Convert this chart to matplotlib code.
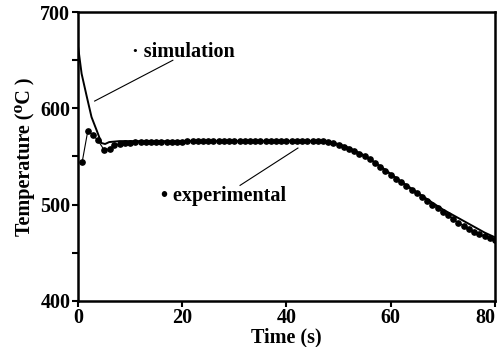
import matplotlib
matplotlib.use('Agg')
import matplotlib.pyplot as plt

# simulation curve
sim_time = [0, 0.7, 1.7, 2.6, 3.6, 4.5, 5.2, 6, 8, 10, 20, 30, 40, 45, 48, 50, 52, 55, 58, 60, 62, 65, 68, 70, 72, 75, 78, 80]
sim_temp = [665, 636, 612, 591, 577, 564, 563, 565, 566, 566, 566, 566, 566, 566, 565, 563, 559, 551, 540, 532, 524, 513, 502, 495, 489, 480, 471, 466]

# experimental measurements (about 1 s apart)
exp_time = [0.8, 1.9, 2.9, 3.8, 5, 6.1, 7, 8, 9, 10,
            11, 12, 13, 14, 15, 16, 17, 18, 19, 20,
            21, 22, 23, 24, 25, 26, 27, 28, 29, 30,
            31, 32, 33, 34, 35, 36, 37, 38, 39, 40,
            41, 42, 43, 44, 45, 46, 47, 48, 49, 50,
            51, 52, 53, 54, 55, 56, 57, 58, 59, 60,
            61, 62, 63, 64, 65, 66, 67, 68, 69, 70,
            71, 72, 73, 74, 75, 76, 77, 78, 79, 80]
exp_temp = [544, 577, 572, 567, 557, 558, 562, 563, 564, 564,
            565, 565, 565, 565, 565, 565, 565, 565, 565, 565,
            566, 566, 566, 566, 566, 566, 566, 566, 566, 566,
            566, 566, 566, 566, 566, 566, 566, 566, 566, 566,
            566, 566, 566, 566, 566, 566, 566, 565, 564, 562,
            560, 558, 556, 553, 550, 547, 543, 539, 535, 531,
            527, 523, 519, 515, 512, 508, 504, 500, 496, 492,
            489, 485, 481, 478, 475, 472, 469, 467, 465, 463]

x_ticks = [0, 20, 40, 60, 80]
y_ticks = [400, 500, 600, 700]

plt.rcParams['font.family'] = ['Liberation Serif', 'DejaVu Serif']
plt.rcParams['font.weight'] = 'bold'

fig = plt.figure(figsize=(5.03, 3.47), dpi=100)
ax = fig.add_axes([0.155, 0.133, 0.829, 0.832])

ax.plot(sim_time, sim_temp, color='black', lw=1.4)
ax.plot(exp_time, exp_temp, color='black', lw=0.8, marker='o', ms=3.8)

ax.set_xlim(0, 80)
ax.set_ylim(400, 700)
ax.set_xticks(x_ticks)
ax.set_yticks(y_ticks)
ax.set_yticks([450, 550, 650], minor=True)
ax.tick_params(axis='both', which='both', direction='out', length=4, width=1.5,
               labelsize=14.5, pad=1.5)
for lab in ax.get_xticklabels() + ax.get_yticklabels():
    lab.set_fontweight('bold')
# last x label sits a little left of its tick, as in the original
ax.get_xticklabels()[-1].set_horizontalalignment('right')
for s in ax.spines.values():
    s.set_linewidth(1.8)

ax.set_xlabel('Time (s)', fontsize=14.5, fontweight='bold', labelpad=-1)
ax.set_ylabel('Temperature (\u2070C )', fontsize=14.5, fontweight='bold', labelpad=4)

# annotations
ax.text(10.3, 658.5, '\u00b7 simulation', fontsize=14.5, fontweight='bold', va='center')
ax.plot([18.2, 3.2], [650, 607.6], color='black', lw=0.8)
ax.text(16.0, 509, '\u2022 experimental', fontsize=14.5, fontweight='bold', va='center')
ax.plot([31.1, 42.2], [520, 558.8], color='black', lw=0.8)

fig.savefig('out.png', dpi=100)
